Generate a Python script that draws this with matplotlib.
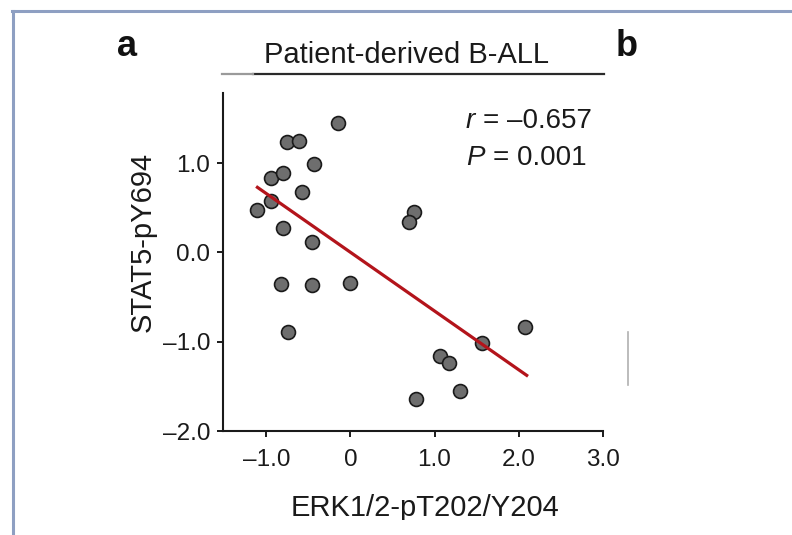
import numpy as np
import matplotlib
matplotlib.use("Agg")
import matplotlib.pyplot as plt
from matplotlib.lines import Line2D
from matplotlib.patches import Rectangle

# ERK1/2 vs STAT5 phospho levels, patient-derived B-ALL samples
erk = [-1.107, -0.948, -0.944, -0.802, -0.750, -0.608, -0.145, -0.430,
       -0.576, -0.798, -0.457, -0.825, -0.457, -0.010, -0.746, 0.754,
       0.695, 1.063, 1.174, 1.562, 2.076, 1.297, 0.782]
stat5 = [0.478, 0.582, 0.829, 0.892, 1.240, 1.247, 1.456, 0.986,
         0.683, 0.277, 0.112, -0.358, -0.365, -0.343, -0.892, 0.456,
         0.344, -1.157, -1.243, -1.019, -0.832, -1.556, -1.646]

xticks = [-1.0, 0.0, 1.0, 2.0, 3.0]
xtick_labels = ["\u20131.0", "0", "1.0", "2.0", "3.0"]
yticks = [-2.0, -1.0, 0.0, 1.0]
ytick_labels = ["\u20132.0", "\u20131.0", "0.0", "1.0"]

r_text = "= \u20130.657"
p_text = "= 0.001"

plt.rcParams["font.family"] = ["Liberation Sans", "DejaVu Sans"]

W, H = 792, 535
fig = plt.figure(figsize=(W / 100, H / 100), dpi=100)
fig.patch.set_facecolor("white")


def fx(px):
    return px / W


def fy(py):
    return 1 - py / H


ax = fig.add_axes([fx(222.7), fy(431), fx(602.7) - fx(222.7), fy(92.7) - fy(431)])

x = np.array(erk)
y = np.array(stat5)
ax.scatter(x, y, s=100, c="#6e6e6e", edgecolors="#1a1a1a", linewidths=1.2, zorder=3)

# least squares fit
slope, icpt = np.polyfit(x, y, 1)
xs = np.array([x.min(), x.max() + 0.02])
ax.plot(xs, slope * xs + icpt, color="#b3141b", lw=2.3, zorder=4)

ax.set_xlim(-1.52, 3.0)
ax.set_ylim(-2.0, 1.79)
ax.set_xticks(xticks)
ax.set_xticklabels(xtick_labels)
ax.set_yticks(yticks)
ax.set_yticklabels(ytick_labels)
for s in ["top", "right"]:
    ax.spines[s].set_visible(False)
for s in ["left", "bottom"]:
    ax.spines[s].set_linewidth(1.5)
    ax.spines[s].set_color("#1a1a1a")
ax.tick_params(axis="both", direction="out", length=4, width=1.4, color="#1a1a1a",
               labelsize=17.5, labelcolor="#1a1a1a")
ax.tick_params(axis="x", pad=9)
ax.tick_params(axis="y", pad=5)

ax.text(0.638, 0.896, "r", transform=ax.transAxes, fontsize=20, style="italic",
        va="baseline", ha="left", color="#1a1a1a")
ax.text(0.685, 0.896, r_text, transform=ax.transAxes, fontsize=20,
        va="baseline", ha="left", color="#1a1a1a")
ax.text(0.640, 0.786, "P", transform=ax.transAxes, fontsize=20, style="italic",
        va="baseline", ha="left", color="#1a1a1a")
ax.text(0.711, 0.786, p_text, transform=ax.transAxes, fontsize=20,
        va="baseline", ha="left", color="#1a1a1a")

# axis labels
fig.text(fx(425), fy(516), "ERK1/2-pT202/Y204", fontsize=21, ha="center",
         va="baseline", color="#1a1a1a")
fig.text(fx(143), fy(242), "STAT5-pY694", fontsize=21, ha="center", va="center",
         rotation=90, color="#1a1a1a")

# title with underline
fig.text(fx(406), fy(63), "Patient-derived B-ALL", fontsize=21, ha="center",
         va="baseline", color="#1a1a1a")
fig.add_artist(Line2D([fx(253), fx(604)], [fy(73.5), fy(73.5)], color="#2a2a2a", lw=1.6))
fig.add_artist(Line2D([fx(222), fx(253)], [fy(73.5), fy(73.5)], color="#9a9a9a", lw=1.6))

# panel letters
fig.text(fx(127), fy(56), "a", fontsize=26, fontweight="bold", ha="center",
         va="baseline", color="#111111")
fig.text(fx(627), fy(56), "b", fontsize=26, fontweight="bold", ha="center",
         va="baseline", color="#111111")

# stray line fragment from the next panel
fig.add_artist(Line2D([fx(628), fx(628)], [fy(332), fy(385)], color="#b0b0b0", lw=1.2))

# white strip that crops the bottom of the x label
fig.add_artist(Rectangle((fx(16), 0), 1, fy(520), transform=fig.transFigure,
                         facecolor="white", edgecolor="none", zorder=10))

# page frame
frame = "#8e9fc2"
fig.add_artist(Line2D([fx(12), 1], [fy(10.5), fy(10.5)], color=frame, lw=2.2, zorder=11))
fig.add_artist(Line2D([fx(13.5), fx(13.5)], [0, fy(10.5)], color=frame, lw=2.2, zorder=11))

fig.savefig("out.png", dpi=100)
